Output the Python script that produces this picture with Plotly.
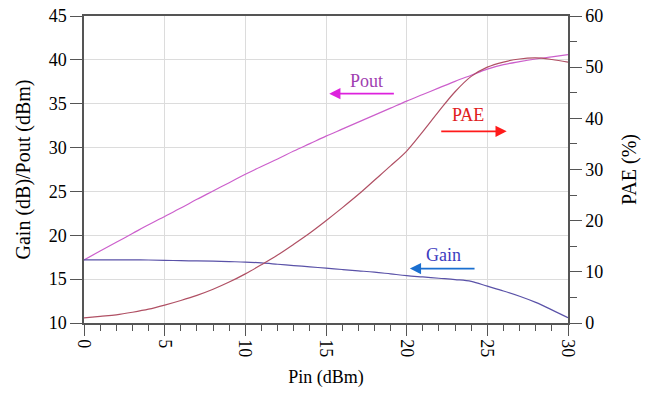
import plotly.graph_objects as go

pin = list(range(0, 31))
pout = [17.2, 18.2, 19.2, 20.2, 21.2, 22.15, 23.1, 24.1, 25.05, 26.0, 26.95,
        27.85, 28.7, 29.6, 30.45, 31.3, 32.1, 32.9, 33.7, 34.5, 35.3,
        36.05, 36.8, 37.55, 38.25, 38.95, 39.45, 39.8, 40.1, 40.35, 40.6]
gain = [17.2, 17.2, 17.2, 17.2, 17.18, 17.15, 17.1, 17.08, 17.05, 17.0, 16.95,
        16.85, 16.7, 16.55, 16.4, 16.25, 16.1, 15.95, 15.8, 15.6, 15.4,
        15.25, 15.1, 14.95, 14.75, 14.2, 13.65, 13.05, 12.35, 11.5, 10.6]
pae = [1.0, 1.3, 1.6, 2.1, 2.7, 3.5, 4.4, 5.4, 6.6, 8.0, 9.6,
       11.4, 13.3, 15.4, 17.6, 20.0, 22.5, 25.1, 27.9, 30.7, 33.6,
       37.4, 41.4, 45.2, 48.2, 50.0, 51.0, 51.6, 51.8, 51.5, 51.0]

FONT = "Liberation Serif"

fig = go.Figure()
fig.add_trace(go.Scatter(x=pin, y=pout, mode="lines", line=dict(color="#cc5fcc", width=1.2, shape="spline"), name="Pout"))
fig.add_trace(go.Scatter(x=pin, y=gain, mode="lines", line=dict(color="#5a52a8", width=1.2, shape="spline"), name="Gain"))
fig.add_trace(go.Scatter(x=pin, y=pae, mode="lines", line=dict(color="#b05064", width=1.2, shape="spline"), name="PAE", yaxis="y2"))

def arrow(x0, x1, y, color):
    fig.add_annotation(x=x1, y=y, ax=x0, ay=y, xref="x", yref="y", axref="x", ayref="y",
                       text="", showarrow=True, arrowhead=2, arrowsize=1.4, arrowwidth=1.6,
                       arrowcolor=color)

fig.add_annotation(x=17.5, y=37.6, text="Pout", showarrow=False, xref="x", yref="y",
                   font=dict(family=FONT, size=18, color="#a040b0"))
arrow(19.3, 15.2, 36.15, "#dd22dd")
fig.add_annotation(x=23.8, y=33.7, text="PAE", showarrow=False, xref="x", yref="y",
                   font=dict(family=FONT, size=18, color="#e02020"))
arrow(22.05, 26.2, 31.85, "#ff1a1a")
fig.add_annotation(x=22.3, y=17.7, text="Gain", showarrow=False, xref="x", yref="y",
                   font=dict(family=FONT, size=18, color="#3c3cc0"))
arrow(24.3, 20.2, 16.2, "#1a6fd0")

axis_common = dict(showline=True, linecolor="#555555", linewidth=1.5,
                   ticks="outside", tickcolor="#555555",
                   tickfont=dict(family=FONT, size=18, color="black"),
                   zeroline=False, automargin=False)

fig.update_layout(
    width=657, height=393,
    margin=dict(l=84, r=89, t=16, b=70),
    paper_bgcolor="white", plot_bgcolor="white",
    showlegend=False,
    xaxis=dict(range=[0, 30], dtick=5, tick0=0, tickangle=90, ticklen=11,
               showgrid=True, gridcolor="#dcdcdc", gridwidth=1, mirror=True,
               minor=dict(dtick=1, ticklen=6, ticks="outside", tickcolor="#555555", showgrid=False),
               title=dict(text="Pin (dBm)", font=dict(family=FONT, size=18, color="black"), standoff=14),
               **axis_common),
    yaxis=dict(range=[10, 45], dtick=5, tick0=10, ticklen=12,
               showgrid=True, gridcolor="#dcdcdc", gridwidth=1,
               title=dict(text="Gain (dB)/Pout (dBm)", font=dict(family=FONT, size=20, color="black"), standoff=13),
               **axis_common),
    yaxis2=dict(range=[0, 60], dtick=10, tick0=0, ticklen=12, overlaying="y", side="right",
                showgrid=False,
                minor=dict(dtick=5, ticklen=7, ticks="outside", tickcolor="#555555"),
                title=dict(text="PAE (%)", font=dict(family=FONT, size=20, color="black"), standoff=20),
                **axis_common),
)

fig.write_html("out.html")
